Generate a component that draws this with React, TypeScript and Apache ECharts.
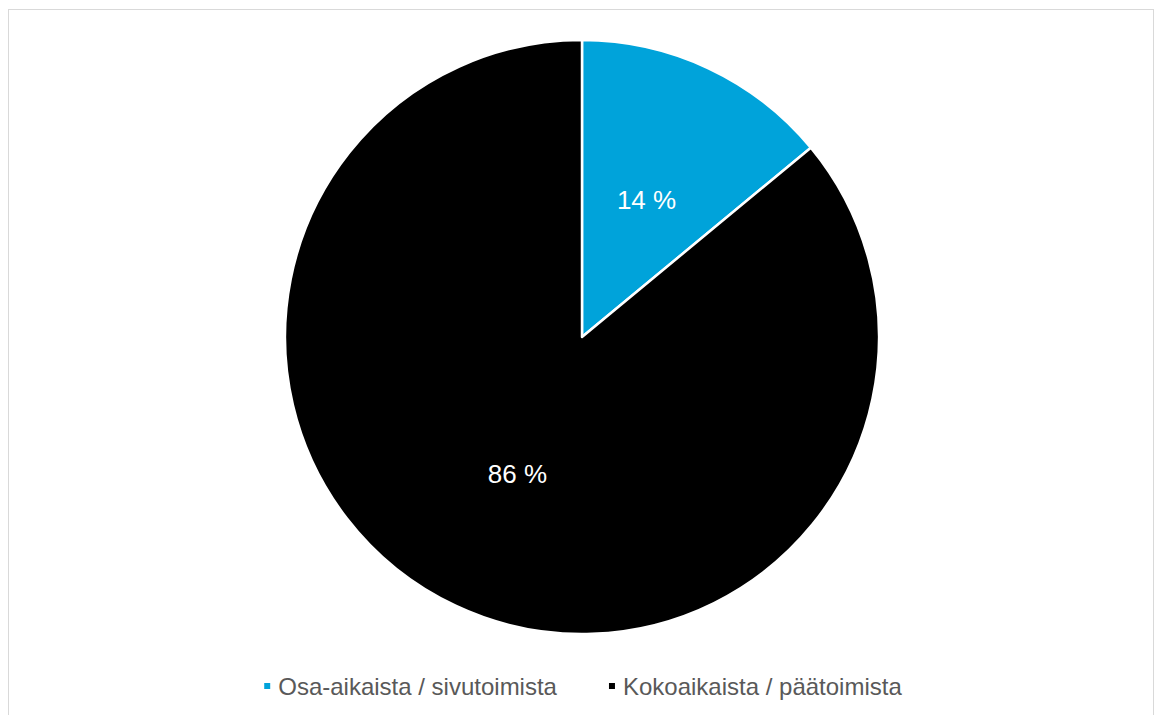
import React, { useEffect, useRef } from "react";
import * as echarts from "echarts";

const categories = ["Osa-aikaista / sivutoimista", "Kokoaikaista / päätoimista"];
const values = [14, 86];
const colors = ["#00A3DA", "#000000"];

export default function App() {
  const ref = useRef<HTMLDivElement>(null);
  useEffect(() => {
    if (!ref.current) return;
    const chart = echarts.init(ref.current, undefined, { renderer: "svg" });
    chart.setOption({
      animation: false,
      textStyle: { fontFamily: "Liberation Sans, Arial, sans-serif" },
      legend: {
        top: 657,
        left: "center",
        itemWidth: 8,
        itemHeight: 8,
        itemGap: 50,
        icon: "rect",
        textStyle: {
          fontSize: 24,
          lineHeight: 28,
          color: "#595959",
          fontFamily: "Liberation Sans, Arial, sans-serif",
          padding: [0, 0, 0, 2],
        },
        data: categories,
      },
      series: [
        {
          type: "pie",
          center: [573, 327],
          radius: [0, 297],
          startAngle: 90,
          clockwise: true,
          itemStyle: { borderColor: "#ffffff", borderWidth: 2.5 },
          label: {
            show: true,
            position: "inner",
            formatter: "{c} %",
            color: "#ffffff",
            fontSize: 26,
            fontFamily: "Liberation Sans, Arial, sans-serif",
          },
          labelLine: { show: false },
          emphasis: { disabled: true },
          data: categories.map((name, i) => ({ name, value: values[i], itemStyle: { color: colors[i] } })),
        },
      ],
    });
    return () => chart.dispose();
  }, []);
  return (
    <div
      style={{
        position: "absolute",
        left: 8,
        top: 9,
        width: 1146,
        height: 720,
        border: "1px solid #d9d9d9",
        borderBottom: "none",
        boxSizing: "border-box",
        background: "#fff",
      }}
    >
      <div ref={ref} style={{ width: 1146, height: 706 }} />
    </div>
  );
}
